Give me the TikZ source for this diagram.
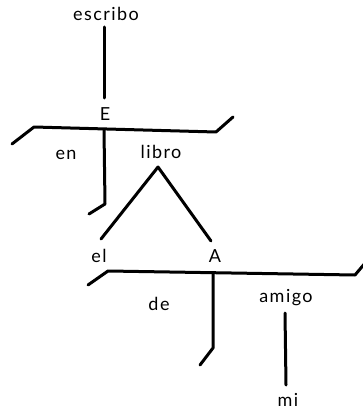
\documentclass[tikz,border=0pt]{standalone}
\usepackage{fontspec}
\setmainfont{Lato}[LetterSpace=8]
\begin{document}
\begin{tikzpicture}[x=1pt,y=-1pt,
  lbl/.style={inner sep=0pt,font=\fontsize{18}{21}\selectfont},
  ln/.style={line width=3pt,line cap=round,line join=round}]
\useasboundingbox (0,0) rectangle (363,409);
\node[lbl] (escribo) at (106,14) {escribo};
\node[lbl] (E) at (105,114) {E};
\node[lbl] (en) at (66,155) {en};
\node[lbl] (libro) at (161,152) {libro};
\node[lbl] (el) at (99,256) {el};
\node[lbl] (A) at (215,256) {A};
\node[lbl] (de) at (159,304) {de};
\node[lbl] (amigo) at (286,298) {amigo};
\node[lbl] (mi) at (288,400) {mi};
% coordinates
\coordinate (v1t) at (104,27);
\coordinate (v1b) at (104,98);
\coordinate (h1a) at (12,144);
\coordinate (h1b) at (34,127);
\coordinate (h1j) at (104,130);
\coordinate (h1c) at (216,132);
\coordinate (h1d) at (233,117);
\coordinate (v2b) at (105,204);
\coordinate (v2h) at (89,214);
\coordinate (apex) at (158,167);
\coordinate (tl) at (101,239);
\coordinate (tr) at (211,241);
\coordinate (h2a) at (88,285);
\coordinate (h2b) at (108,271);
\coordinate (h2j) at (213,273);
\coordinate (h2c) at (355,275);
\coordinate (h2d) at (366,262);
\coordinate (v3b) at (213,348);
\coordinate (v3h) at (200,365);
\coordinate (v4t) at (285,313);
\coordinate (v4b) at (286,385);
\draw[ln] (v1t) -- (v1b);
\draw[ln] (h1a) -- (h1b) -- (h1c) -- (h1d);
\draw[ln] (h1j) -- (v2b) -- (v2h);
\draw[ln] (tl) -- (apex) -- (tr);
\draw[ln] (h2a) -- (h2b) -- (h2c) -- (h2d);
\draw[ln] (h2j) -- (v3b) -- (v3h);
\draw[ln] (v4t) -- (v4b);
\end{tikzpicture}
\end{document}
